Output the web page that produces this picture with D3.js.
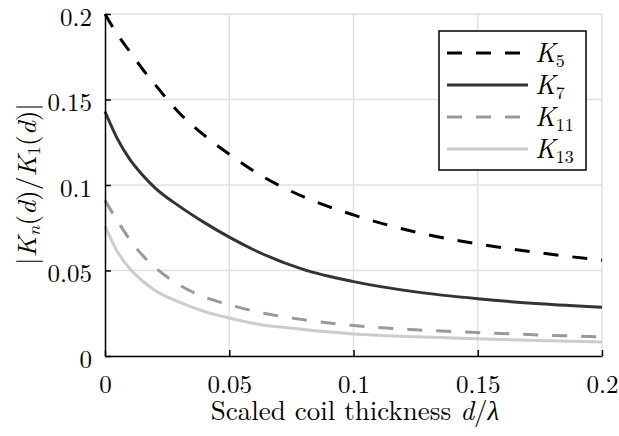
<!DOCTYPE html>
<html>
<head>
<meta charset="utf-8">
<script src="https://cdn.jsdelivr.net/npm/d3@7"></script>
</head>
<body style="margin:0;background:#fff">
<svg id="chart" width="619" height="436"></svg>
<script>
// d/lambda sample points
const dVals = [0, 0.005, 0.01, 0.015, 0.02, 0.03, 0.04, 0.05, 0.06, 0.08, 0.1, 0.125, 0.15, 0.175, 0.2];
// |Kn(d)/K1(d)|
const k5 = [0.200, 0.188, 0.178, 0.168, 0.159, 0.142, 0.129, 0.118, 0.108, 0.093, 0.0825, 0.0725, 0.0655, 0.0603, 0.056];
const k7 = [0.143, 0.127, 0.115, 0.106, 0.0985, 0.0875, 0.078, 0.0695, 0.062, 0.0505, 0.0435, 0.0375, 0.0335, 0.0305, 0.0285];
const k11 = [0.091, 0.079, 0.068, 0.059, 0.052, 0.0415, 0.0345, 0.030, 0.0262, 0.0212, 0.0178, 0.0153, 0.0137, 0.0123, 0.0112];
const k13 = [0.076, 0.061, 0.051, 0.044, 0.0385, 0.0315, 0.026, 0.0222, 0.019, 0.0155, 0.0129, 0.0113, 0.0101, 0.009, 0.0082];

const xTicks = [0, 0.05, 0.1, 0.15, 0.2];
const yTicks = [0, 0.05, 0.1, 0.15, 0.2];
const tickLabels = ['0', '0.05', '0.1', '0.15', '0.2'];

const series = [
  {sub: '5', values: k5, color: '#000000', dash: '15,14'},
  {sub: '7', values: k7, color: '#333333', dash: null},
  {sub: '11', values: k11, color: '#999999', dash: '15,14'},
  {sub: '13', values: k13, color: '#cccccc', dash: null}
];

const FONT = '"Latin Modern Roman", "Liberation Serif", serif';
const margin = {left: 105, right: 17, top: 14, bottom: 80};
const W = 619, H = 436;

const svg = d3.select('#chart');

const x = d3.scaleLinear().domain([0, 0.2]).range([margin.left, W - margin.right]);
const y = d3.scaleLinear().domain([0, 0.2]).range([H - margin.bottom, margin.top]);

// grid
const grid = svg.append('g').attr('class', 'grid');
grid.selectAll('line.gx').data(xTicks.slice(1)).enter().append('line')
  .attr('x1', d => x(d)).attr('x2', d => x(d))
  .attr('y1', y(0)).attr('y2', y(0.2))
  .style('stroke', '#e1e1e1').style('stroke-width', 1.5);
grid.selectAll('line.gy').data(yTicks.slice(1)).enter().append('line')
  .attr('x1', x(0)).attr('x2', x(0.2))
  .attr('y1', d => y(d)).attr('y2', d => y(d))
  .style('stroke', '#e1e1e1').style('stroke-width', 1.5);

// lines
const line = d3.line()
  .x((v, i) => x(dVals[i]))
  .y(v => y(v))
  .curve(d3.curveMonotoneX);

series.forEach(s => {
  svg.append('path')
    .datum(s.values)
    .attr('d', line)
    .style('fill', 'none')
    .style('stroke', s.color)
    .style('stroke-width', 3)
    .style('stroke-dasharray', s.dash);
});

// axes
const xAxis = d3.axisBottom(x)
  .tickValues(xTicks)
  .tickFormat((d, i) => tickLabels[i])
  .tickSizeInner(-6)
  .tickSizeOuter(0)
  .tickPadding(19);
const yAxis = d3.axisLeft(y)
  .tickValues(yTicks)
  .tickFormat((d, i) => tickLabels[i])
  .tickSizeInner(-6)
  .tickSizeOuter(0)
  .tickPadding(13);

const gx = svg.append('g').attr('transform', `translate(0,${y(0)})`).call(xAxis);
const gy = svg.append('g').attr('transform', `translate(${x(0)},0)`).call(yAxis);
[gx, gy].forEach(g => {
  g.attr('font-family', null).attr('font-size', null);
  g.select('.domain').style('stroke', '#000').style('stroke-width', 1.5);
  g.selectAll('.tick line').style('stroke', '#000').style('stroke-width', 1.5);
  g.selectAll('.tick text')
    .style('font-family', FONT)
    .style('font-size', '25px')
    .style('fill', '#000');
});
gy.selectAll('.tick text').attr('dy', '0.44em');

// axis titles
const xt = svg.append('text')
  .attr('x', 355)
  .attr('y', 420)
  .attr('text-anchor', 'middle')
  .style('font-family', FONT)
  .style('font-size', '27px');
xt.append('tspan').text('Scaled coil thickness ');
xt.append('tspan').style('font-style', 'italic').text('d');
xt.append('tspan').text('/');
xt.append('tspan').style('font-style', 'italic').text('λ');

const yt = svg.append('text')
  .attr('transform', `translate(36,184) rotate(-90)`)
  .attr('text-anchor', 'middle')
  .attr('textLength', 162)
  .attr('lengthAdjust', 'spacingAndGlyphs')
  .style('font-family', FONT)
  .style('font-size', '26px');
yt.append('tspan').text('|');
yt.append('tspan').style('font-style', 'italic').text('K');
yt.append('tspan').style('font-style', 'italic').style('font-size', '18px').attr('dy', 4).text('n');
yt.append('tspan').attr('dy', -4).text('(');
yt.append('tspan').style('font-style', 'italic').text('d');
yt.append('tspan').text(')/');
yt.append('tspan').style('font-style', 'italic').text('K');
yt.append('tspan').style('font-size', '18px').attr('dy', 4).text('1');
yt.append('tspan').attr('dy', -4).text('(');
yt.append('tspan').style('font-style', 'italic').text('d');
yt.append('tspan').text(')|');

// legend
const lg = svg.append('g').attr('transform', 'translate(439,31)');
lg.append('rect')
  .attr('width', 147).attr('height', 139)
  .style('fill', '#fff').style('stroke', '#000').style('stroke-width', 1.5);
const rowY = d3.scalePoint().domain(series.map(s => s.sub)).range([22, 118]);
series.forEach(s => {
  const r = lg.append('g').attr('transform', `translate(0,${rowY(s.sub)})`);
  r.append('line')
    .attr('x1', 8).attr('x2', 89)
    .style('stroke', s.color).style('stroke-width', 3)
    .style('stroke-dasharray', s.dash);
  const t = r.append('text').attr('x', 96).attr('y', 9)
    .style('font-family', FONT).style('font-size', '27px');
  t.append('tspan').style('font-style', 'italic').text('K');
  t.append('tspan').style('font-size', '18px').attr('dy', 5).text(s.sub);
});
</script>
</body>
</html>
